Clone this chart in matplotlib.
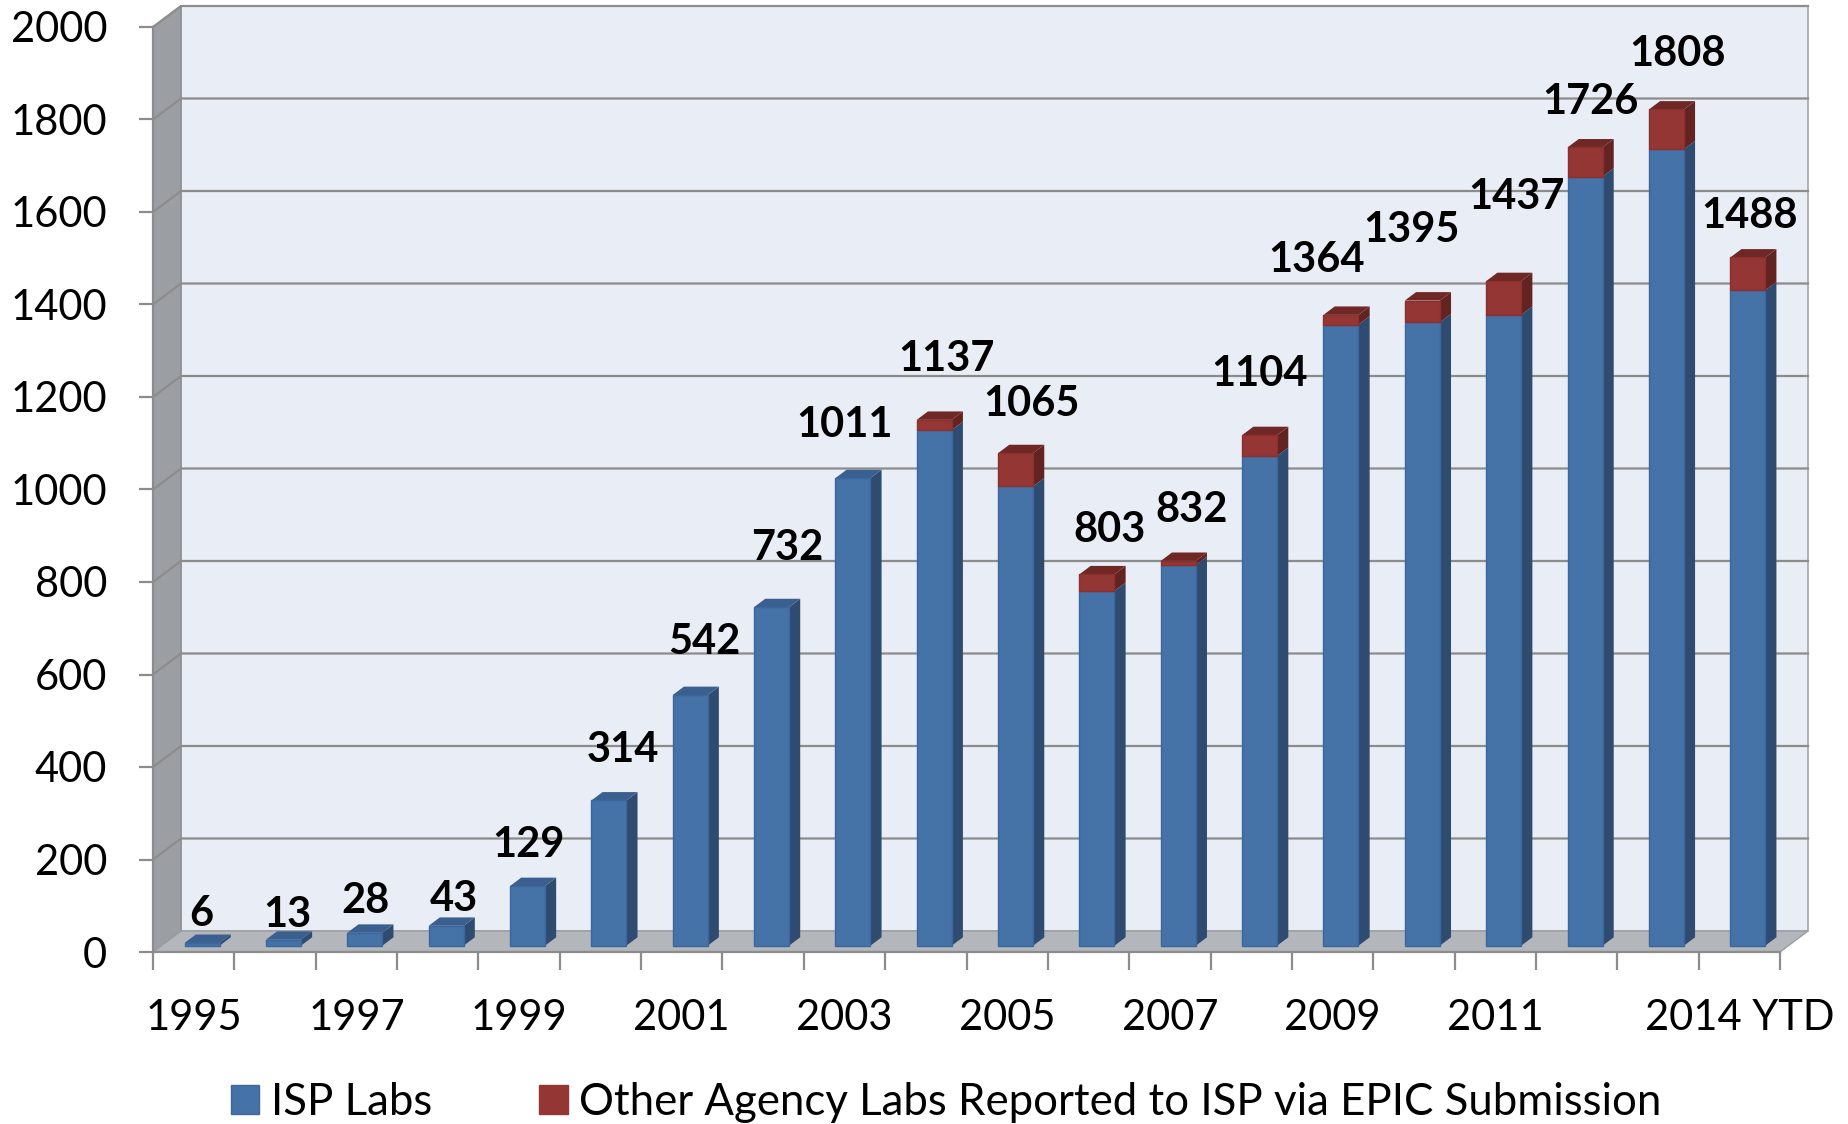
import numpy as np
import matplotlib
matplotlib.use("Agg")
import matplotlib.pyplot as plt
from matplotlib.patches import Polygon, Rectangle, Patch
from matplotlib.transforms import IdentityTransform, ScaledTranslation

plt.rcParams['font.family'] = ['Lato', 'DejaVu Sans']

# data
years = ['1995', '1996', '1997', '1998', '1999', '2000', '2001', '2002',
         '2003', '2004', '2005', '2006', '2007', '2008', '2009', '2010',
         '2011', '2012', '2013', '2014 YTD']
shown_years = ['1995', '1997', '1999', '2001', '2003', '2005', '2007',
               '2009', '2011', '2014 YTD']
isp_labs = [6, 13, 28, 43, 129, 314, 542, 732, 1011, 1115, 993, 767, 823,
            1059, 1343, 1348, 1364, 1663, 1722, 1417]
other_labs = [0, 0, 0, 0, 0, 0, 0, 0, 0, 22, 72, 36, 9, 45, 21, 47, 73, 63,
              86, 71]
y_ticks = [0, 200, 400, 600, 800, 1000, 1200, 1400, 1600, 1800, 2000]

# label nudges (pixels) relative to the top of each bar
label_dx = [-1, 4, 1, 8, 1, 14, 14, 16, -8, 12, 16, 13, 13, 0, -24, -11, 13,
            5, 11, 2]
label_dy = [29, 25, 32, 27, 41, 50, 53, 59, 53, 61, 49, 44, 51, 61, 55, 71,
            84, 45, 55, 41]

BLUE = ['#4572a7', '#2f4b6f', '#3b6090']   # front, side, top
RED = ['#943634', '#622321', '#6f2826']
WALL = '#e9edf5'
SIDE_WALL = '#9b9ea3'
FLOOR = '#b3b6ba'
GRID = '#8c8c8c'

W, H = 1848, 1124
fig = plt.figure(figsize=(W / 100, H / 100), dpi=100)
ax = fig.add_axes([153 / W, (H - 952) / H, (1780 - 153) / W, (952 - 27) / H])
ax.set_xlim(-0.5, 19.5)
ax.set_ylim(0, 2000)
ax.patch.set_visible(False)

DX, DY = 28, 21          # depth of the "3d" box, pixels
B0, B1 = 0.3, 0.7        # bar depth range as fraction of box depth
x = np.arange(len(years))
isp = np.array(isp_labs)
oth = np.array(other_labs)
totals = isp + oth


def proj(xv, yv, d):
    px, py = ax.transData.transform((xv, yv))
    return (px + d * DX, py + d * DY)


def poly(pts, color, z, ec='none', lw=0):
    p = Polygon(pts, closed=True, facecolor=color, edgecolor=ec, lw=lw,
                transform=IdentityTransform(), clip_on=False, zorder=z)
    ax.add_patch(p)


x0, x1 = -0.5, 19.5
# back wall
back = Rectangle((x0, 0), x1 - x0, 2000, facecolor=WALL, edgecolor='#a6a6a6',
                 lw=1.2, clip_on=False, zorder=0,
                 transform=ax.transData + ScaledTranslation(DX / 100, DY / 100,
                                                            fig.dpi_scale_trans))
ax.add_patch(back)
# left wall
poly([proj(x0, 0, 0), proj(x0, 0, 1), proj(x0, 2000, 1), proj(x0, 2000, 0)],
     SIDE_WALL, 0.5, ec='#8a8d91', lw=1)
# gridlines on walls
for v in y_ticks[1:]:
    pts = np.array([proj(x0, v, 0), proj(x0, v, 1), proj(x1, v, 1)])
    ax.plot(pts[:, 0], pts[:, 1], color=GRID, lw=1.6,
            transform=IdentityTransform(), clip_on=False, zorder=1)
# floor
poly([proj(x0, 0, 0), proj(x1, 0, 0), proj(x1, 0, 1), proj(x0, 0, 1)],
     FLOOR, 1.5, ec='#9a9da1', lw=1)

# bars: front faces through ax.bar, side/top faces projected
w = 0.43
front = ax.transData + ScaledTranslation(B0 * DX / 100, B0 * DY / 100,
                                         fig.dpi_scale_trans)
bars_isp = ax.bar(x, isp, width=w, color=BLUE[0], edgecolor='#3c66a0',
                  lw=1, zorder=3, clip_on=False)
bars_oth = ax.bar(x, oth, bottom=isp, width=w, color=RED[0],
                  edgecolor='#8a302e', lw=[1 if v > 0 else 0 for v in oth],
                  zorder=3, clip_on=False)
for p in list(bars_isp) + list(bars_oth):
    p.set_transform(front)

for i in x:
    xl, xr = i - w / 2, i + w / 2
    segs = [(0, isp[i], BLUE), (isp[i], totals[i], RED)]
    for lo, hi, col in segs:
        if hi - lo <= 0:
            continue
        poly([proj(xr, lo, B0), proj(xr, lo, B1), proj(xr, hi, B1),
              proj(xr, hi, B0)], col[1], 2.5)
    top_col = RED[2] if oth[i] > 0 else BLUE[2]
    t = totals[i]
    poly([proj(xl, t, B0), proj(xr, t, B0), proj(xr, t, B1), proj(xl, t, B1)],
         top_col, 2.6)
    ax.annotate(str(t), xy=(i, t), xytext=((label_dx[i] + B0 * DX) * 0.72,
                                            (label_dy[i] + B0 * DY) * 0.72),
                textcoords='offset points', ha='center', va='center',
                fontsize=30, fontweight='bold', color='black', zorder=5,
                annotation_clip=False)

# axes, ticks, labels
for s in ['top', 'right']:
    ax.spines[s].set_visible(False)
for s in ['left', 'bottom']:
    ax.spines[s].set_color(GRID)
    ax.spines[s].set_linewidth(1.6)
    ax.spines[s].set_zorder(4)

ax.set_yticks(y_ticks)
ax.set_yticklabels([str(v) for v in y_ticks])
ax.tick_params(axis='y', length=10, width=1.6, color=GRID, pad=23,
               labelsize=30)
ax.set_xticks([i for i, yr in enumerate(years) if yr in shown_years])
ax.set_xticklabels(shown_years)
ax.set_xticks(np.arange(-0.5, 20, 1), minor=True)
ax.tick_params(axis='x', which='major', length=0, pad=34, labelsize=30)
ax.tick_params(axis='x', which='minor', length=13, width=1.6, color=GRID)

handles = [Patch(facecolor=BLUE[0], edgecolor='#3c66a0'),
           Patch(facecolor=RED[0], edgecolor=RED[0])]
fig.legend(handles, ['ISP Labs',
                     'Other Agency Labs Reported to ISP via EPIC Submission'],
           loc='center', bbox_to_anchor=(0.512, 0.019), ncol=2, frameon=False,
           fontsize=31.5, handlelength=0.65, handleheight=0.65,
           handletextpad=0.27, columnspacing=2.45)

fig.savefig('out.png', dpi=100)
